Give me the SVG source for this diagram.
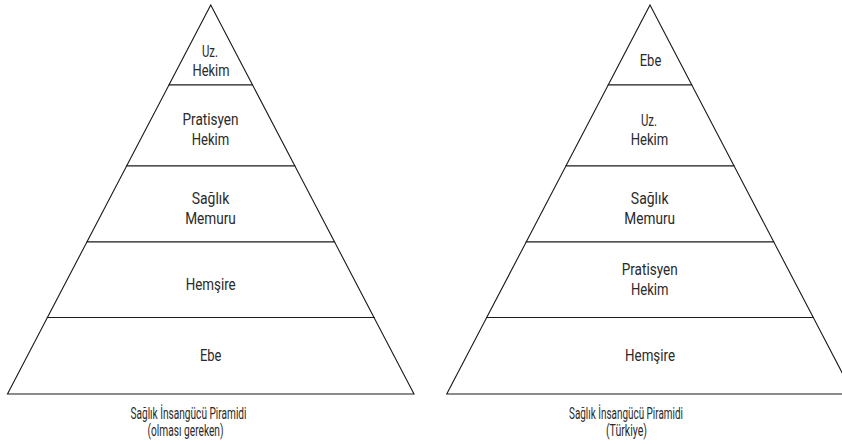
<svg xmlns="http://www.w3.org/2000/svg" width="842" height="444" viewBox="0 0 842 444">
<style>
.band{fill:#fff;stroke:#1a1a1a;stroke-width:1.1;stroke-linejoin:miter}
.lbl{font-family:Roboto,"Liberation Sans",sans-serif;font-size:17px;fill:#2a2a2a;text-anchor:middle}
.cap{font-family:Roboto,"Liberation Sans",sans-serif;font-size:16.5px;fill:#2a2a2a;text-anchor:middle}
</style>
<rect width="842" height="444" fill="#fff"/>
<g id="left-pyramid">
<g id="L1"><polygon class="band" points="210.75,5 252.55,85 168.95,85"/>
<text class="lbl" x="210" y="57" textLength="16" lengthAdjust="spacingAndGlyphs">Uz.</text>
<text class="lbl" x="211" y="76" textLength="37" lengthAdjust="spacingAndGlyphs">Hekim</text></g>
<g id="L2"><polygon class="band" points="168.95,85 252.55,85 294.9,166 126.6,166"/>
<text class="lbl" x="210.5" y="125" textLength="56" lengthAdjust="spacingAndGlyphs">Pratisyen</text>
<text class="lbl" x="210.5" y="145" textLength="37.5" lengthAdjust="spacingAndGlyphs">Hekim</text></g>
<g id="L3"><polygon class="band" points="126.6,166 294.9,166 334.6,242 86.9,242"/>
<text class="lbl" x="210.5" y="204" textLength="37.7" lengthAdjust="spacingAndGlyphs">Sağlık</text>
<text class="lbl" x="210.5" y="223.5" textLength="50.7" lengthAdjust="spacingAndGlyphs">Memuru</text></g>
<g id="L4"><polygon class="band" points="86.9,242 334.6,242 374,317.5 47.4,317.5"/>
<text class="lbl" x="210.7" y="289.5" textLength="50" lengthAdjust="spacingAndGlyphs">Hemşire</text></g>
<g id="L5"><polygon class="band" points="47.4,317.5 374,317.5 414,394 7.5,394"/>
<text class="lbl" x="210.7" y="361" textLength="21.5" lengthAdjust="spacingAndGlyphs">Ebe</text></g>
<g id="L-caption">
<text class="cap" x="188.5" y="418.5" textLength="116" lengthAdjust="spacingAndGlyphs">Sağlık İnsangücü Piramidi</text>
<text class="cap" x="185.5" y="436" textLength="76" lengthAdjust="spacingAndGlyphs">(olması gereken)</text></g>
</g>
<g id="right-pyramid">
<g id="R1"><polygon class="band" points="650,5 691.8,85 608.2,85"/>
<text class="lbl" x="650.5" y="66" textLength="21.5" lengthAdjust="spacingAndGlyphs">Ebe</text></g>
<g id="R2"><polygon class="band" points="608.2,85 691.8,85 734.1,166 565.9,166"/>
<text class="lbl" x="649" y="126" textLength="16" lengthAdjust="spacingAndGlyphs">Uz.</text>
<text class="lbl" x="649.5" y="145" textLength="37.5" lengthAdjust="spacingAndGlyphs">Hekim</text></g>
<g id="R3"><polygon class="band" points="565.9,166 734.1,166 773.8,242 526.2,242"/>
<text class="lbl" x="649.7" y="204" textLength="37.7" lengthAdjust="spacingAndGlyphs">Sağlık</text>
<text class="lbl" x="649.7" y="223.5" textLength="50.7" lengthAdjust="spacingAndGlyphs">Memuru</text></g>
<g id="R4"><polygon class="band" points="526.2,242 773.8,242 813.3,317.5 486.7,317.5"/>
<text class="lbl" x="649.7" y="275" textLength="56" lengthAdjust="spacingAndGlyphs">Pratisyen</text>
<text class="lbl" x="649.7" y="295" textLength="37.5" lengthAdjust="spacingAndGlyphs">Hekim</text></g>
<g id="R5"><polygon class="band" points="486.7,317.5 813.3,317.5 853.25,394 446.75,394"/>
<text class="lbl" x="650" y="361" textLength="50" lengthAdjust="spacingAndGlyphs">Hemşire</text></g>
<g id="R-caption">
<text class="cap" x="626" y="418.5" textLength="114" lengthAdjust="spacingAndGlyphs">Sağlık İnsangücü Piramidi</text>
<text class="cap" x="626.5" y="436" textLength="41" lengthAdjust="spacingAndGlyphs">(Türkiye)</text></g>
</g>
<g id="connectors"/>
</svg>
